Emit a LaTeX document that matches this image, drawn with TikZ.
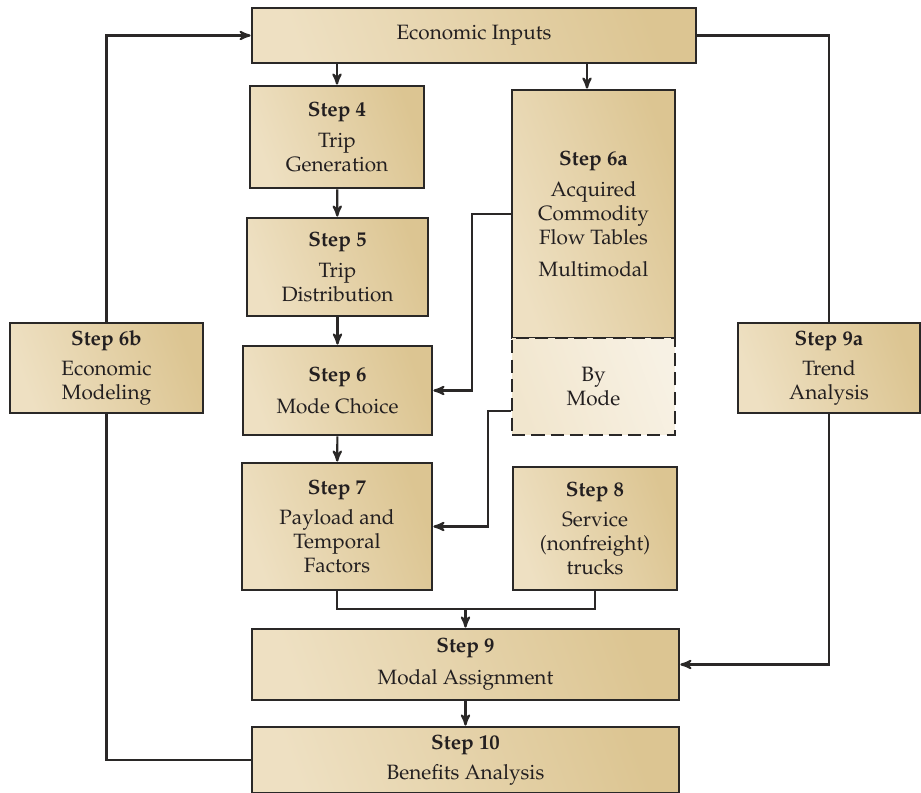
\documentclass[tikz,border=0pt]{standalone}
\usepackage[T1]{fontenc}
\usepackage{mathpazo}
\usepackage{tikz}
\usetikzlibrary{arrows}

\definecolor{tanlight}{HTML}{EEE0C2}
\definecolor{tandark}{HTML}{DCC592}
\definecolor{boxline}{HTML}{2A2827}
\definecolor{inktext}{HTML}{231F20}

\begin{document}
\begin{tikzpicture}[x=0.02cm, y=-0.02cm,
		box/.style={draw=boxline, line width=1.6pt, left color=tanlight, middle color=tandark, right color=tandark, shading angle=110,
			align=center, text=inktext, inner sep=0pt, font=\fontsize{11.8}{13.8}\selectfont},
		dashbox/.style={box, dash pattern=on 7.5pt off 3.5pt, left color=tanlight!80, middle color=white!95!tanlight, right color=tanlight!45, shading angle=110},
		link/.style={draw=boxline, line width=1.2pt},
		>=stealth']
		\useasboundingbox (0,0) rectangle (921,793);
		% the boxes
		\node[box, minimum width=8.88cm, minimum height=1.1cm] (econ) at (474,35.5) {Economic Inputs};
		\node[box, minimum width=3.48cm, minimum height=2.04cm] (s4) at (337,137) {\textbf{Step 4}\\[3.5pt] Trip\\ Generation};
		\node[box, minimum width=3.62cm, minimum height=1.96cm] (s5) at (337.5,267) {\textbf{Step 5}\\[3.5pt] Trip\\ Distribution};
		\node[box, minimum width=3.78cm, minimum height=1.78cm] (s6) at (337.5,390.5) {\textbf{Step 6}\\[4pt] Mode Choice};
		\node[box, minimum width=3.8cm, minimum height=2.54cm] (s7) at (337,526.5) {\textbf{Step 7}\\[3.5pt] Payload and\\ Temporal\\ Factors};
		\node[box, minimum width=3.26cm, minimum height=4.96cm] (s6a) at (593.5,214) {\textbf{Step 6a}\\[3.5pt] Acquired\\ Commodity\\ Flow Tables\\[4pt] Multimodal};
		\node[dashbox, minimum width=3.26cm, minimum height=1.94cm] (bymode) at (593.5,386.5) {By\\ Mode};
		\node[box, minimum width=3.28cm, minimum height=2.46cm] (s8) at (595,528.5) {\textbf{Step 8}\\[3.5pt] Service\\ (nonfreight)\\ trucks};
		\node[box, minimum width=3.86cm, minimum height=1.8cm] (s6b) at (106.5,368) {\textbf{Step 6b}\\[3.5pt] Economic\\ Modeling};
		\node[box, minimum width=3.64cm, minimum height=1.8cm] (s9a) at (829,368) {\textbf{Step 9a}\\[3.5pt] Trend\\ Analysis};
		\node[box, minimum width=8.54cm, minimum height=1.42cm] (s9) at (465.5,664.5) {\mbox{}\\[-6pt]\textbf{Step 9}\\[4pt] Modal Assignment};
		\node[box, minimum width=8.54cm, minimum height=1.32cm] (s10) at (465.5,760) {\textbf{Step 10}\\[3pt] Benefits Analysis};
		\coordinate (c6a) at (587,0);
		\coordinate (merge) at (465.5,609);
		% main chain
		\draw[link, ->] (econ.south -| s4.north) -- (s4.north);
		\draw[link, ->] (econ.south -| c6a) -- (s6a.north -| c6a);
		\foreach \a/\b in {s4/s5, s5/s6, s6/s7, s9/s10} {
			\draw[link, ->] (\a) -- (\b);
		}
		% side feeds
		\draw[link, ->] (s6a.west) -- ++(-39,0) |- (s6.east);
		\draw[link, ->] (bymode.west |- 0,411) -- ++(-23,0) |- (s7.east);
		\draw[link] (s7.south) |- (merge) -| (s8.south);
		\draw[link, ->] (merge) -- (s9.north);
		% loops round the outside
		\draw[link] (s10.west) -| (s6b.south);
		\draw[link, ->] (s6b.north) |- (econ.west);
		\draw[link] (econ.east) -| (s9a.north);
		\draw[link, ->] (s9a.south) |- (s9.east);
\end{tikzpicture}
\end{document}
